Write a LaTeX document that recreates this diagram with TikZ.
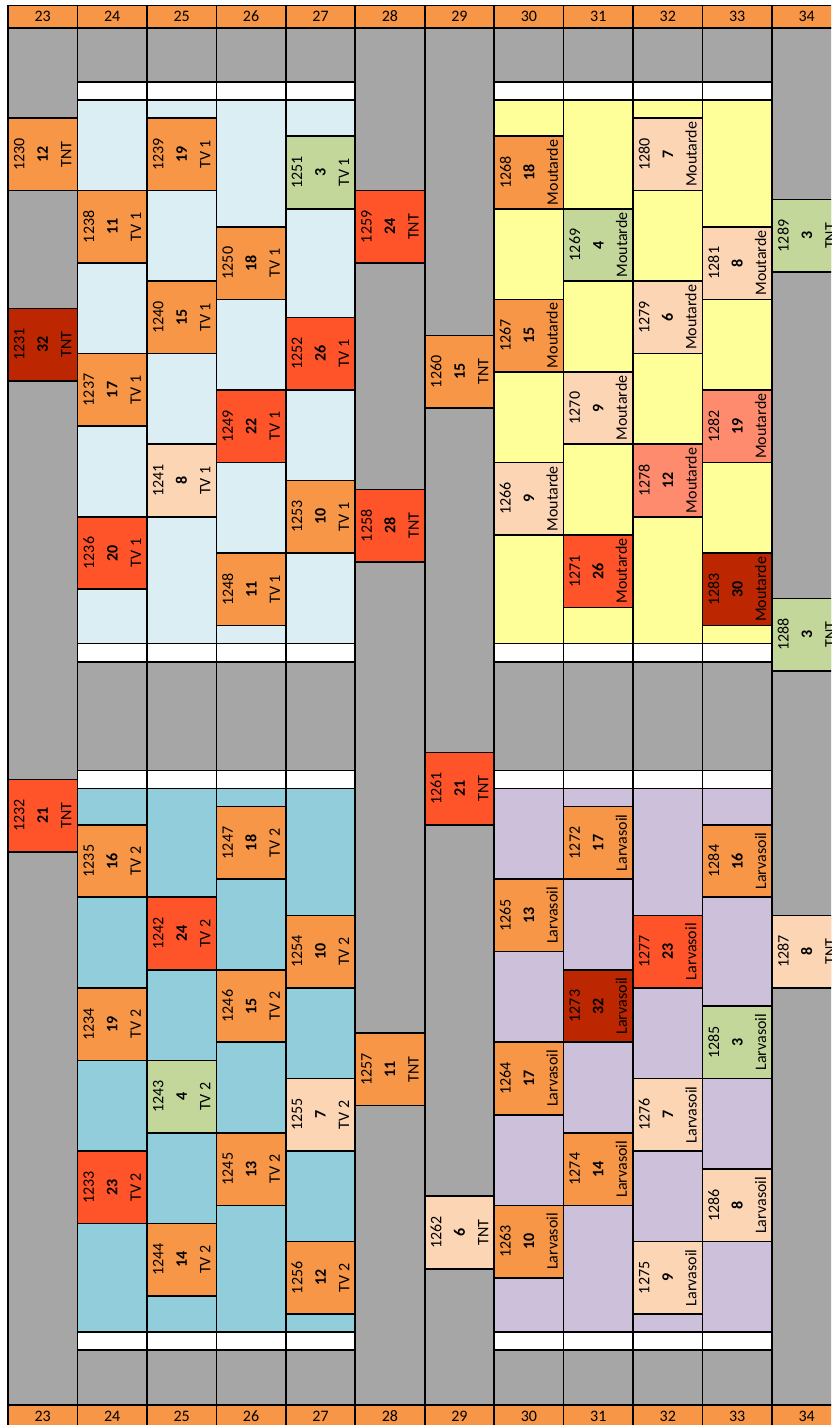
\documentclass[tikz,border=0pt]{standalone}
\usepackage{fontspec}
\setmainfont{Carlito}
\definecolor{hdr}{HTML}{F79646}
\definecolor{gry}{HTML}{A6A6A6}
\definecolor{tvA}{HTML}{DAEEF3}
\definecolor{tvB}{HTML}{92CDDC}
\definecolor{mou}{HTML}{FFFF99}
\definecolor{lar}{HTML}{CCC0DA}
\definecolor{cOr}{HTML}{F79646}
\definecolor{cRd}{HTML}{FF5329}
\definecolor{cDk}{HTML}{BC2600}
\definecolor{cPe}{HTML}{FCD5B4}
\definecolor{cGr}{HTML}{C4D79B}
\definecolor{cSa}{HTML}{FF8B6E}
\tikzset{
  cell/.style={draw=black, line width=1.6pt},
  hdrcell/.style={draw=black, line width=1.6pt, fill=hdr, minimum width=69.45pt, minimum height=22.4pt, inner sep=0pt, font=\fontsize{16}{19}\selectfont},
  plotbox/.style={draw=black, line width=1.6pt, rotate=90, minimum width=72.48pt, minimum height=69.45pt, inner sep=0pt, align=center, font=\fontsize{16}{23.5}\selectfont},
}
\newcommand{\seg}[4]{\draw[cell,fill=#4] ({cx(#1)},{ry(#2)}) rectangle ({cx(#1+1)},{ry(#3)});}
\newcommand{\bx}[6]{\node[plotbox,fill=#3] (b#4) at ({cx(#1)+34.725},{ry(#2+4)}) {#4\\\textbf{#5}\\#6};}
\begin{document}
\begin{tikzpicture}[x=1pt,y=1pt,declare function={cx(\c)=8+69.45*(\c-23); ry(\n)=-(100+9.06*\n);}]
\useasboundingbox (0,0) rectangle (831,-1425);
\clip (0,0) rectangle (831,-1425);
\fill[white] (0,0) rectangle (831,-1425);
% TNT columns
\foreach \c in {23,28,29,34} {\seg{\c}{-8}{144}{gry}}
% trial columns
\foreach \c/\ca/\cb in {24/tvA/tvB,25/tvA/tvB,26/tvA/tvB,27/tvA/tvB,30/mou/lar,31/mou/lar,32/mou/lar,33/mou/lar} {
  \seg{\c}{-8}{-2}{gry}
  \seg{\c}{-2}{0}{white}
  \seg{\c}{0}{60}{\ca}
  \seg{\c}{60}{62}{white}
  \seg{\c}{62}{74}{gry}
  \seg{\c}{74}{76}{white}
  \seg{\c}{76}{136}{\cb}
  \seg{\c}{136}{138}{white}
  \seg{\c}{138}{144}{gry}
}
% headers
\foreach \c in {23,...,34} {
  \node[hdrcell] (ht\c) at ({cx(\c)+34.725},-16.5) {\c};
  \node[hdrcell] (hb\c) at ({cx(\c)+34.725},-1416) {\c};
}
% column 23
\bx{23}{2}{cOr}{1230}{12}{TNT}
\bx{23}{23}{cDk}{1231}{32}{TNT}
\bx{23}{75}{cRd}{1232}{21}{TNT}
% column 24
\bx{24}{10}{cOr}{1238}{11}{TV 1}
\bx{24}{28}{cOr}{1237}{17}{TV 1}
\bx{24}{46}{cRd}{1236}{20}{TV 1}
\bx{24}{80}{cOr}{1235}{16}{TV 2}
\bx{24}{98}{cOr}{1234}{19}{TV 2}
\bx{24}{116}{cRd}{1233}{23}{TV 2}
% column 25
\bx{25}{2}{cOr}{1239}{19}{TV 1}
\bx{25}{20}{cOr}{1240}{15}{TV 1}
\bx{25}{38}{cPe}{1241}{8}{TV 1}
\bx{25}{88}{cRd}{1242}{24}{TV 2}
\bx{25}{106}{cGr}{1243}{4}{TV 2}
\bx{25}{124}{cOr}{1244}{14}{TV 2}
% column 26
\bx{26}{14}{cOr}{1250}{18}{TV 1}
\bx{26}{32}{cRd}{1249}{22}{TV 1}
\bx{26}{50}{cOr}{1248}{11}{TV 1}
\bx{26}{78}{cOr}{1247}{18}{TV 2}
\bx{26}{96}{cOr}{1246}{15}{TV 2}
\bx{26}{114}{cOr}{1245}{13}{TV 2}
% column 27
\bx{27}{4}{cGr}{1251}{3}{TV 1}
\bx{27}{24}{cRd}{1252}{26}{TV 1}
\bx{27}{42}{cOr}{1253}{10}{TV 1}
\bx{27}{90}{cOr}{1254}{10}{TV 2}
\bx{27}{108}{cPe}{1255}{7}{TV 2}
\bx{27}{126}{cOr}{1256}{12}{TV 2}
% column 28
\bx{28}{10}{cRd}{1259}{24}{TNT}
\bx{28}{43}{cRd}{1258}{28}{TNT}
\bx{28}{103}{cOr}{1257}{11}{TNT}
% column 29
\bx{29}{26}{cOr}{1260}{15}{TNT}
\bx{29}{72}{cRd}{1261}{21}{TNT}
\bx{29}{121}{cPe}{1262}{6}{TNT}
% column 30
\bx{30}{4}{cOr}{1268}{18}{Moutarde}
\bx{30}{22}{cOr}{1267}{15}{Moutarde}
\bx{30}{40}{cPe}{1266}{9}{Moutarde}
\bx{30}{86}{cOr}{1265}{13}{Larvasoil}
\bx{30}{104}{cOr}{1264}{17}{Larvasoil}
\bx{30}{122}{cOr}{1263}{10}{Larvasoil}
% column 31
\bx{31}{12}{cGr}{1269}{4}{Moutarde}
\bx{31}{30}{cPe}{1270}{9}{Moutarde}
\bx{31}{48}{cRd}{1271}{26}{Moutarde}
\bx{31}{78}{cOr}{1272}{17}{Larvasoil}
\bx{31}{96}{cDk}{1273}{32}{Larvasoil}
\bx{31}{114}{cOr}{1274}{14}{Larvasoil}
% column 32
\bx{32}{2}{cPe}{1280}{7}{Moutarde}
\bx{32}{20}{cPe}{1279}{6}{Moutarde}
\bx{32}{38}{cSa}{1278}{12}{Moutarde}
\bx{32}{90}{cRd}{1277}{23}{Larvasoil}
\bx{32}{108}{cPe}{1276}{7}{Larvasoil}
\bx{32}{126}{cPe}{1275}{9}{Larvasoil}
% column 33
\bx{33}{14}{cPe}{1281}{8}{Moutarde}
\bx{33}{32}{cSa}{1282}{19}{Moutarde}
\bx{33}{50}{cDk}{1283}{30}{Moutarde}
\bx{33}{80}{cOr}{1284}{16}{Larvasoil}
\bx{33}{100}{cGr}{1285}{3}{Larvasoil}
\bx{33}{118}{cPe}{1286}{8}{Larvasoil}
% column 34
\bx{34}{11}{cGr}{1289}{3}{TNT}
\bx{34}{55}{cGr}{1288}{3}{TNT}
\bx{34}{90}{cPe}{1287}{8}{TNT}
\end{tikzpicture}
\end{document}
